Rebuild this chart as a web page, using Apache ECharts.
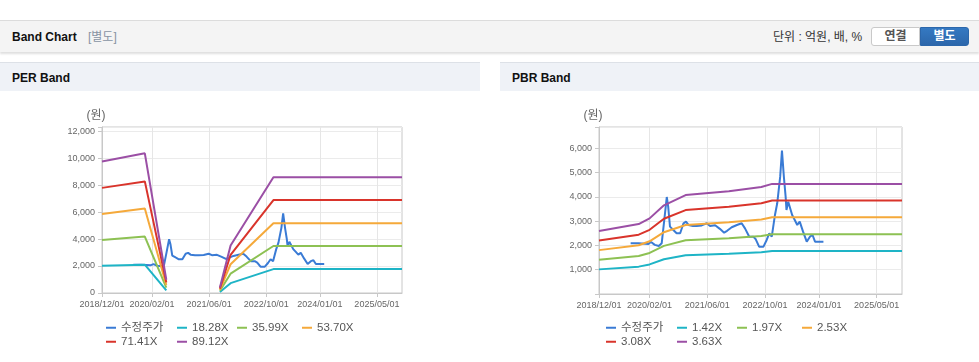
<!DOCTYPE html>
<html><head><meta charset="utf-8">
<script src="https://cdn.jsdelivr.net/npm/echarts@6/dist/echarts.min.js"></script>
<style>
html,body{margin:0;padding:0;background:#fff;width:979px;height:362px;overflow:hidden;font-family:"Liberation Sans","Noto Sans CJK KR",sans-serif;}
.bar{position:absolute;left:0;top:20px;width:979px;height:31px;background:#f4f4f4;border-top:1px solid #dcdcdc;box-shadow:0 2px 2px rgba(0,0,0,0.13);}
.ttl{position:absolute;left:12px;top:0;line-height:33px;font-size:12px;font-weight:bold;color:#111;}
.sub{position:absolute;left:88px;top:0;line-height:33px;font-size:12px;color:#8893a3;}
.unit{position:absolute;left:773px;top:0;line-height:33px;font-size:12px;color:#333;}
.btn{position:absolute;top:6px;height:17px;line-height:17px;width:47px;text-align:center;font-size:12px;font-weight:bold;}
.b1{left:871px;background:#fff;border:1px solid #c9c9c9;border-radius:3px 0 0 3px;color:#555;}
.b2{left:920px;background:linear-gradient(#3579c2,#2c67ab);border:1px solid #2c67ab;border-radius:0 3px 3px 0;color:#fff;}
.ph{position:absolute;top:62px;height:28px;background:#eff2f7;border-top:1px solid #dde1e7;}
.ph span{position:absolute;left:12px;top:0;line-height:30px;font-size:12px;font-weight:bold;color:#111;}
</style></head><body>
<div class="bar">
  <div class="ttl">Band Chart</div>
  <div class="sub">[별도]</div>
  <div class="unit">단위 : 억원, 배, %</div>
  <div class="btn b1">연결</div>
  <div class="btn b2">별도</div>
</div>
<div class="ph" style="left:0;width:480px"><span>PER Band</span></div>
<div class="ph" style="left:500px;width:479px"><span>PBR Band</span></div>
<div id="chart" style="position:absolute;left:0;top:91px;width:979px;height:271px"></div>
<script>
// ---------- data ----------
const xStart = '2018/12/01';
const xEnd = '2025/12/01';
const tickLabels = ['2018/12/01','2020/02/01','2021/06/01','2022/10/01','2024/01/01','2025/05/01'];

const priceName = '수정주가';
const price = [
  ['2019/08/25',2086],['2019/11/01',2086],['2020/01/22',2060],['2020/02/13',2140],['2020/03/16',2020],
  ['2020/04/19',1975],['2020/05/13',2086],['2020/06/04',3045],['2020/06/25',3990],['2020/07/07',3590],
  ['2020/07/22',2770],['2020/08/19',2634],['2020/09/16',2500],['2020/10/16',2500],['2020/11/13',2909],
  ['2020/12/04',2975],['2020/12/25',2840],['2021/02/01',2800],['2021/03/04',2800],['2021/04/16',2820],
  ['2021/05/28',2909],['2021/06/25',2800],['2021/08/07',2830],['2021/09/16',2680],['2021/10/22',2523],
  ['2021/11/16',2600],['2021/12/25',2745],['2022/02/07',2840],['2022/03/19',2909],['2022/04/16',2700],
  ['2022/05/22',2358],['2022/06/25',2358],['2022/07/16',2250],['2022/08/13',1947],['2022/09/19',1947],
  ['2022/10/16',2222],['2022/11/07',2497],['2022/11/28',2358],['2022/12/25',3251],['2023/01/13',3732],
  ['2023/02/07',4827],['2023/02/22',5897],['2023/02/28',5897],['2023/03/10',4827],['2023/03/25',4004],
  ['2023/04/01',3457],['2023/04/16',3798],['2023/05/19',3251],['2023/06/10',3045],['2023/07/01',2840],
  ['2023/07/22',2975],['2023/08/19',2564],['2023/09/19',2152],['2023/10/16',2358],['2023/11/07',2428],
  ['2023/11/28',2152],['2024/01/10',2152],['2024/02/07',2152]
];

// PER band (break marked with '-')
const perNames = ['18.28X','35.99X','53.70X','71.41X','89.12X'];
const perDates = ['2018/12/01','2019/12/01','2020/06/01','2021/01/01','2021/09/01','2021/12/01','2022/12/01','2025/12/01'];
const per1828 = [2010, 2100, 200, '-', 80, 730, 1770, 1770];
const per3599 = [3935, 4180, 400, '-', 165, 1430, 3480, 3480];
const per5370 = [5860, 6260, 600, '-', 245, 2130, 5175, 5175];
const per7141 = [7790, 8270, 790, '-', 325, 2830, 6890, 6890];
const per8912 = [9750, 10350, 980, '-', 400, 3520, 8580, 8580];

// PBR band
const pbrNames = ['1.42X','1.97X','2.53X','3.08X','3.63X'];
const pbrDates = ['2018/12/01','2019/11/01','2020/02/01','2020/06/01','2020/12/01','2021/12/01','2022/09/01','2022/12/01','2025/12/01'];
const pbr142 = [1013, 1126, 1217, 1427, 1592, 1654, 1721, 1772, 1772];
const pbr197 = [1406, 1562, 1688, 1980, 2208, 2295, 2388, 2459, 2459];
const pbr253 = [1805, 2006, 2168, 2543, 2836, 2947, 3066, 3157, 3157];
const pbr308 = [2198, 2442, 2640, 3095, 3453, 3588, 3733, 3844, 3844];
const pbr363 = [2590, 2879, 3111, 3648, 4069, 4229, 4400, 4530, 4530];

// ---------- styling / build ----------
const colors = ['#3a7bd5','#1eb4c6','#8dc153','#f5a93a','#d9342b','#9b4fa5'];
const FONT = '"Liberation Sans","Noto Sans CJK KR",sans-serif';
function ts(s){ const p = s.split('/').map(Number); return new Date(p[0], p[1]-1, p[2]).getTime(); }
function pad(n){ return (n<10?'0':'')+n; }
function fmtDate(v){ const d = new Date(v); return d.getFullYear()+'/'+pad(d.getMonth()+1)+'/'+pad(d.getDate()); }
const tickVals = tickLabels.map(ts);

function mkX(gi){
  return {
    type:'value', gridIndex:gi, min:ts(xStart), max:ts(xEnd), scale:true,
    axisLine:{show:true, lineStyle:{color:'#c8c8c8'}},
    axisTick:{show:true, length:4, lineStyle:{color:'#c8c8c8'}, customValues:tickVals},
    axisLabel:{customValues:tickVals, formatter:fmtDate, fontSize:9, color:'#666', margin:7, fontFamily:FONT, hideOverlap:false},
    splitLine:{show:true, lineStyle:{color:'#e6e6e6'}}
  };
}
function mkY(gi, max, step, showZero){
  return {
    type:'value', gridIndex:gi, min:0, max:max, interval:step,
    name:'(원)', nameLocation:'end', nameGap:5,
    nameTextStyle:{fontSize:12, color:'#666', fontFamily:FONT, padding:[0,12,0,0]},
    axisLine:{show:true, lineStyle:{color:'#c8c8c8'}},
    axisTick:{show:true, length:4, lineStyle:{color:'#c8c8c8'}},
    axisLabel:{fontSize:9, color:'#666', margin:7, fontFamily:FONT,
      formatter:function(v){ if (v % step !== 0) return ''; if (v === 0 && !showZero) return ''; return v.toLocaleString('en-US'); }},
    splitLine:{show:true, lineStyle:{color:'#ebebeb'}}
  };
}
function mkLine(name, data, color, gi){
  return {type:'line', name:name, xAxisIndex:gi, yAxisIndex:gi, data:data.map(p=>[ts(p[0]), p[1]]),
    showSymbol:false, symbol:'none', connectNulls:false, silent:true, animation:false,
    lineStyle:{width:2, color:color}, itemStyle:{color:color}};
}
function zip(dates, vals){ return dates.map((d,i)=>[d, vals[i]]); }

const perSeries = [per1828, per3599, per5370, per7141, per8912];
const pbrSeries = [pbr142, pbr197, pbr253, pbr308, pbr363];

const series = [mkLine(priceName, price, colors[0], 0)];
perSeries.forEach((v,i)=>series.push(mkLine(perNames[i], zip(perDates, v), colors[i+1], 0)));
series.push(mkLine(priceName, price, colors[0], 1));
pbrSeries.forEach((v,i)=>series.push(mkLine(pbrNames[i], zip(pbrDates, v), colors[i+1], 1)));

// legend layout (fixed columns like the reference)
const colOff = [0, 71, 131, 196];
const rowTop = [231, 245];
function mkLegends(base, names){
  const all = [priceName].concat(names);
  return all.map((n,i)=>({
    data:[n], left: base + colOff[i<4?i:i-4], top: rowTop[i<4?0:1], padding:0,
    itemWidth:10, itemHeight:2, icon:'rect', selectedMode:false,
    textStyle:{fontSize:11.5, color:'#555', fontFamily:FONT, padding:[0,0,0,0]}
  }));
}

const option = {
  animation:false,
  backgroundColor:'#fff',
  textStyle:{fontFamily:FONT},
  grid:[
    {left:102, top:36, width:300, height:166, show:true, borderColor:'#c8c8c8', borderWidth:1, backgroundColor:'transparent'},
    {left:599, top:36, width:303, height:167, show:true, borderColor:'#c8c8c8', borderWidth:1, backgroundColor:'transparent'}
  ],
  xAxis:[mkX(0), mkX(1)],
  yAxis:[mkY(0, 12300, 2000, true), mkY(1, 6870, 1000, false)],
  legend: mkLegends(106, perNames).concat(mkLegends(606, pbrNames)),
  series: series
};
const chart = echarts.init(document.getElementById('chart'), null, {renderer:'canvas'});
chart.setOption(option);
</script>
</body></html>
